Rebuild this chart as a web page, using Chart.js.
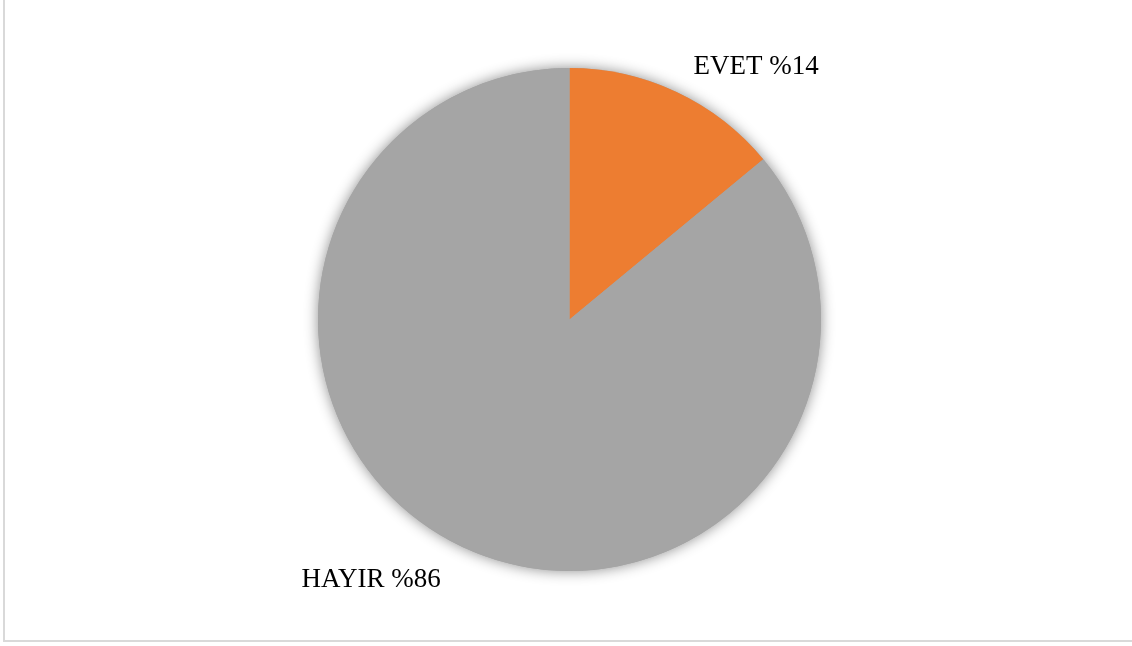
<!DOCTYPE html>
<html lang="tr">

<head>
    <meta charset="UTF-8">
    <title>EVET / HAYIR</title>
    <script src="https://cdn.jsdelivr.net/npm/chart.js"></script>
    <style>
        html, body {
            margin: 0;
            padding: 0;
            background: #ffffff;
        }
        #wrap {
            width: 1132px;
            height: 646px;
        }
    </style>
</head>

<body>
    <div id="wrap">
        <canvas id="pieChart" width="1132" height="646"></canvas>
    </div>

    <script>
        // cevap kategorileri ve yüzdeleri
        var answers = ['EVET', 'HAYIR'];
        var percents = [14, 86];
        var sliceColors = ['#ED7D31', '#A5A5A5'];

        // etiketlerin pasta merkezine göre yeri (sol-alt taban çizgisi)
        var labelOffsets = [
            { dx: 124, dy: -246 },
            { dx: -268, dy: 267 }
        ];

        // grafiğin çevresindeki ince gri çerçeve
        var frame = {
            id: 'frame',
            beforeDraw: function (chart) {
                var ctx = chart.ctx;
                ctx.save();
                ctx.strokeStyle = '#d9d9d9';
                ctx.lineWidth = 2;
                ctx.strokeRect(4, -10, chart.width + 20, 651);
                ctx.restore();
            }
        };

        // dilimlerin arkasına yumuşak gölge
        var pieShadow = {
            id: 'pieShadow',
            beforeDatasetsDraw: function (chart) {
                var arc = chart.getDatasetMeta(0).data[0];
                if (!arc) return;
                var ctx = chart.ctx;
                ctx.save();
                ctx.shadowColor = 'rgba(0, 0, 0, 0.45)';
                ctx.shadowBlur = 14;
                ctx.fillStyle = '#a5a5a5';
                ctx.beginPath();
                ctx.arc(arc.x, arc.y, arc.outerRadius, 0, Math.PI * 2);
                ctx.fill();
                ctx.restore();
            }
        };

        // "EVET %14" biçiminde veri etiketleri
        var sliceLabels = {
            id: 'sliceLabels',
            afterDatasetsDraw: function (chart) {
                var ctx = chart.ctx;
                var meta = chart.getDatasetMeta(0);
                ctx.save();
                ctx.font = '27px "Liberation Serif", "Times New Roman", serif';
                ctx.fillStyle = '#000000';
                ctx.textAlign = 'left';
                ctx.textBaseline = 'alphabetic';
                meta.data.forEach(function (arc, i) {
                    var text = answers[i] + ' %' + percents[i];
                    ctx.fillText(text, arc.x + labelOffsets[i].dx, arc.y + labelOffsets[i].dy);
                });
                ctx.restore();
            }
        };

        var ctx = document.getElementById('pieChart').getContext('2d');
        var myChart = new Chart(ctx, {
            type: 'pie',
            data: {
                labels: answers,
                datasets: [
                    {
                        data: percents,
                        backgroundColor: sliceColors,
                        borderWidth: 0
                    }
                ]
            },
            options: {
                responsive: false,
                animation: false,
                layout: {
                    padding: { top: 68, bottom: 75, left: 318, right: 311 }
                },
                plugins: {
                    legend: { display: false },
                    tooltip: { enabled: false }
                }
            },
            plugins: [frame, pieShadow, sliceLabels]
        });
    </script>
</body>

</html>
